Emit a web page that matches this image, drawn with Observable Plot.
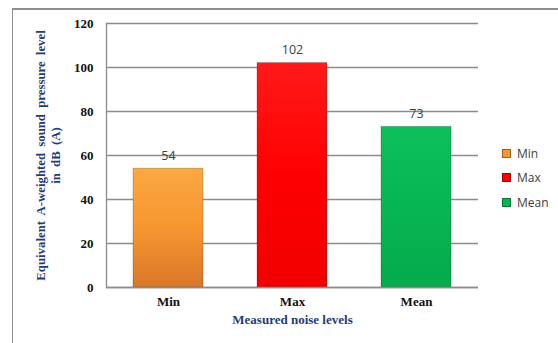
<!DOCTYPE html>
<html>
<head>
<meta charset="utf-8">
<script src="https://cdn.jsdelivr.net/npm/d3@7"></script>
<script src="https://cdn.jsdelivr.net/npm/@observablehq/plot@0.6"></script>
<style>
  body { margin: 0; background: #fff; }
  #wrap { position: relative; width: 558px; height: 343px; overflow: hidden; background: #fff; }
  #frame { position: absolute; left: 12px; top: 8px; width: 560px; height: 360px; border-left: 1.5px solid #8f8f8f; border-top: 2px solid #8f8f8f; box-sizing: border-box; }
  #chart { position: absolute; left: 0; top: 0; }
  #legend { position: absolute; left: 502px; top: 141px; font-family: "Open Sans", "Liberation Sans", sans-serif; font-size: 12px; color: #404040; }
  .item { display: flex; align-items: center; height: 24.5px; }
  .sw { width: 7px; height: 7px; margin-right: 6px; border: 0.5px solid rgba(0,0,0,0.35); }
  .ytitle text { word-spacing: 3px; }
</style>
</head>
<body>
<div id="wrap">
  <div id="frame"></div>
  <div id="chart"></div>
  <div id="legend"></div>
</div>
<script>
const categories = ["Min", "Max", "Mean"];
const values = [54, 102, 73];
const colors = ["#F7962F", "#FF0000", "#07B652"];
const gradTop = ["#FBA843", "#FF1A1A", "#0CC05C"];
const gradBottom = ["#D9772A", "#F00000", "#05AA4C"];
const yTicks = [0, 20, 40, 60, 80, 100, 120];
const yTitle = ["Equivalent A-weighted sound pressure level", "in dB (A)"];
const xTitle = "Measured noise levels";

const data = categories.map((c, i) => ({category: c, value: values[i]}));
const gradIds = categories.map(c => "grad" + c);

const chart = Plot.plot({
  width: 558,
  height: 343,
  marginLeft: 106,
  marginRight: 80,
  marginTop: 23,
  marginBottom: 56,
  style: {background: "transparent", overflow: "visible"},
  x: {domain: categories, paddingInner: 0.435, paddingOuter: 0.2175, label: null},
  y: {domain: [0, 120], label: null},
  color: {domain: categories, range: gradIds.map(id => `url(#${id})`)},
  marks: [
    Plot.gridY(yTicks, {stroke: "#8c8c8c", strokeOpacity: 1, strokeWidth: 1.3}),
    Plot.frame({anchor: "left", stroke: "#8c8c8c", strokeWidth: 1.3}),
    Plot.barY(data, {x: "category", y: "value", fill: "category", stroke: "rgba(0,0,0,0.25)", strokeWidth: 0.8}),
    Plot.ruleY([0], {stroke: "#8c8c8c", strokeWidth: 1.5}),
    Plot.text(data, {x: "category", y: "value", text: d => String(d.value), dy: -13, fill: "#404040", fontSize: 12.5, fontFamily: "Open Sans, Liberation Sans, sans-serif"}),
    Plot.axisY(yTicks, {tickSize: 0, tickPadding: 13, fontSize: 13, fontWeight: "bold", fontFamily: "Liberation Serif, Times New Roman, serif", fill: "#111", label: null}),
    Plot.axisX({tickSize: 0, tickPadding: 9, fontSize: 13, fontWeight: "bold", fontFamily: "Liberation Serif, Times New Roman, serif", fill: "#111", label: null}),
    Plot.text([yTitle.join("\n")], {className: "ytitle", frameAnchor: "left", rotate: -90, dx: -59, textAnchor: "middle", lineAnchor: "middle", fill: "#1F3C78", fontSize: 12.8, fontWeight: "bold", fontFamily: "Liberation Serif, Times New Roman, serif", lineHeight: 1.15}),
    Plot.text([xTitle], {frameAnchor: "bottom", dy: 36, fill: "#1F3C78", fontSize: 13, fontWeight: "bold", fontFamily: "Liberation Serif, Times New Roman, serif"})
  ]
});

// gradient defs for the bars
const ns = "http://www.w3.org/2000/svg";
const defs = document.createElementNS(ns, "defs");
categories.forEach((c, i) => {
  const g = document.createElementNS(ns, "linearGradient");
  g.setAttribute("id", gradIds[i]);
  g.setAttribute("x1", "0"); g.setAttribute("y1", "0");
  g.setAttribute("x2", "0"); g.setAttribute("y2", "1");
  [[0, gradTop[i]], [0.5, colors[i]], [1, gradBottom[i]]].forEach(([o, col]) => {
    const s = document.createElementNS(ns, "stop");
    s.setAttribute("offset", o);
    s.setAttribute("stop-color", col);
    g.appendChild(s);
  });
  defs.appendChild(g);
});
chart.insertBefore(defs, chart.firstChild);
document.getElementById("chart").appendChild(chart);

const legend = document.getElementById("legend");
categories.forEach((c, i) => {
  const item = document.createElement("div");
  item.className = "item";
  const sw = document.createElement("span");
  sw.className = "sw";
  sw.style.background = colors[i];
  const t = document.createElement("span");
  t.textContent = c;
  item.appendChild(sw);
  item.appendChild(t);
  legend.appendChild(item);
});
</script>
</body>
</html>
